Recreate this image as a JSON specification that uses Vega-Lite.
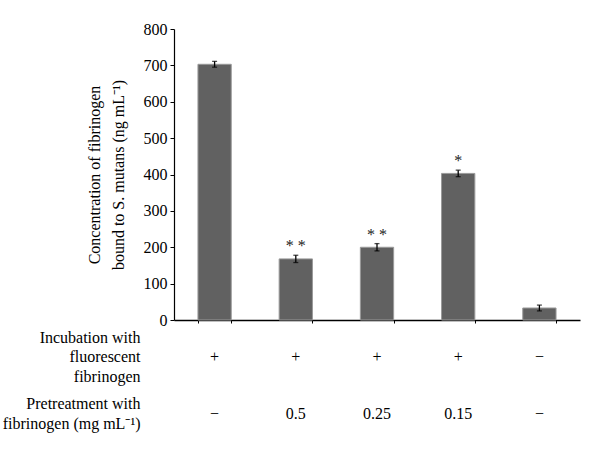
{
  "$schema": "https://vega.github.io/schema/vega-lite/v6.json",
  "padding": {"top": 21, "left": 2, "right": 5, "bottom": 5},
  "spacing": 0,
  "config": {
    "view": {"stroke": null},
    "font": "Liberation Serif",
    "text": {"font": "Liberation Serif"},
    "axis": {"labelFont": "Liberation Serif", "titleFont": "Liberation Serif", "labelColor": "#000", "titleColor": "#000", "domainColor": "#000", "tickColor": "#000", "labelFontSize": 16, "titleFontSize": 16, "titleFontWeight": "normal", "grid": false}
  },
  "datasets": {
    "bars": [
      {"group": "A", "value": 703, "err": 8, "sig": ""},
      {"group": "B", "value": 168, "err": 10, "sig": "* *"},
      {"group": "C", "value": 200, "err": 10, "sig": "* *"},
      {"group": "D", "value": 403, "err": 9, "sig": "*"},
      {"group": "E", "value": 33, "err": 8, "sig": ""}
    ],
    "table": [
      {"group": "A", "rowlabel": "Incubation with|fluorescent|fibrinogen", "cell": "+"},
      {"group": "B", "rowlabel": "Incubation with|fluorescent|fibrinogen", "cell": "+"},
      {"group": "C", "rowlabel": "Incubation with|fluorescent|fibrinogen", "cell": "+"},
      {"group": "D", "rowlabel": "Incubation with|fluorescent|fibrinogen", "cell": "+"},
      {"group": "E", "rowlabel": "Incubation with|fluorescent|fibrinogen", "cell": "−"},
      {"group": "A", "rowlabel": "Pretreatment with|fibrinogen (mg mL⁻¹)", "cell": "−"},
      {"group": "B", "rowlabel": "Pretreatment with|fibrinogen (mg mL⁻¹)", "cell": "0.5"},
      {"group": "C", "rowlabel": "Pretreatment with|fibrinogen (mg mL⁻¹)", "cell": "0.25"},
      {"group": "D", "rowlabel": "Pretreatment with|fibrinogen (mg mL⁻¹)", "cell": "0.15"},
      {"group": "E", "rowlabel": "Pretreatment with|fibrinogen (mg mL⁻¹)", "cell": "−"}
    ]
  },
  "vconcat": [
    {
      "width": 406,
      "height": 291,
      "data": {"name": "bars"},
      "encoding": {
        "x": {"field": "group", "type": "nominal", "scale": {"paddingInner": 0.59, "paddingOuter": 0.295},
              "axis": {"labels": false, "title": null, "tickBand": "extent", "tickSize": 3, "domainWidth": 1.5}}
      },
      "layer": [
        {
          "mark": {"type": "bar", "color": "#616161", "stroke": "#9a9a9a", "strokeWidth": 1},
          "encoding": {
            "y": {"field": "value", "type": "quantitative", "scale": {"domain": [0, 800]},
                  "axis": {"values": [0,100,200,300,400,500,600,700,800], "tickSize": 4, "labelPadding": 3, "domainWidth": 1.2,
                           "title": ["Concentration of fibrinogen", "bound to S. mutans (ng mL⁻¹)"], "titlePadding": 17, "titleLineHeight": 24}}
          }
        },
        {
          "transform": [{"calculate": "datum.value - datum.err", "as": "lo"}, {"calculate": "datum.value + datum.err", "as": "hi"}],
          "layer": [
            {"mark": {"type": "rule", "color": "#000", "strokeWidth": 1.3},
             "encoding": {"y": {"field": "lo", "type": "quantitative",
                  "axis": {"values": [0,100,200,300,400,500,600,700,800], "tickSize": 4, "labelPadding": 3, "domainWidth": 1.2,
                           "title": ["Concentration of fibrinogen", "bound to S. mutans (ng mL⁻¹)"], "titlePadding": 17, "titleLineHeight": 24}}, "y2": {"field": "hi"}}},
            {"mark": {"type": "tick", "color": "#000", "thickness": 1.3, "size": 5},
             "encoding": {"y": {"field": "lo", "type": "quantitative",
                  "axis": {"values": [0,100,200,300,400,500,600,700,800], "tickSize": 4, "labelPadding": 3, "domainWidth": 1.2,
                           "title": ["Concentration of fibrinogen", "bound to S. mutans (ng mL⁻¹)"], "titlePadding": 17, "titleLineHeight": 24}}}},
            {"mark": {"type": "tick", "color": "#000", "thickness": 1.3, "size": 5},
             "encoding": {"y": {"field": "hi", "type": "quantitative",
                  "axis": {"values": [0,100,200,300,400,500,600,700,800], "tickSize": 4, "labelPadding": 3, "domainWidth": 1.2,
                           "title": ["Concentration of fibrinogen", "bound to S. mutans (ng mL⁻¹)"], "titlePadding": 17, "titleLineHeight": 24}}}},
            {"mark": {"type": "text", "font": "Liberation Serif", "fontSize": 16, "baseline": "bottom", "dy": -1, "fill": "#222"},
             "encoding": {"y": {"field": "hi", "type": "quantitative",
                  "axis": {"values": [0,100,200,300,400,500,600,700,800], "tickSize": 4, "labelPadding": 3, "domainWidth": 1.2,
                           "title": ["Concentration of fibrinogen", "bound to S. mutans (ng mL⁻¹)"], "titlePadding": 17, "titleLineHeight": 24}}, "text": {"field": "sig"}}}
          ]
        }
      ]
    },
    {
      "width": 406,
      "height": 114,
      "data": {"name": "table"},
      "mark": {"type": "text", "font": "Liberation Serif", "fontSize": 16, "fill": "#000"},
      "encoding": {
        "x": {"field": "group", "type": "nominal", "scale": {"paddingInner": 0.59, "paddingOuter": 0.295}, "axis": null},
        "y": {"field": "rowlabel", "type": "nominal", "sort": null,
              "axis": {"title": null, "domain": false, "ticks": false, "labelExpr": "split(datum.label, '|')", "labelLineHeight": 19.5,
                       "labelOffset": {"expr": "indexof(datum.value, 'Incubation') == 0 ? -19.5 : -10"},
                       "labelFont": "Liberation Serif", "labelPadding": 34, "labelFontSize": 16, "labelLimit": 300}},
        "text": {"field": "cell"}
      }
    }
  ]
}
